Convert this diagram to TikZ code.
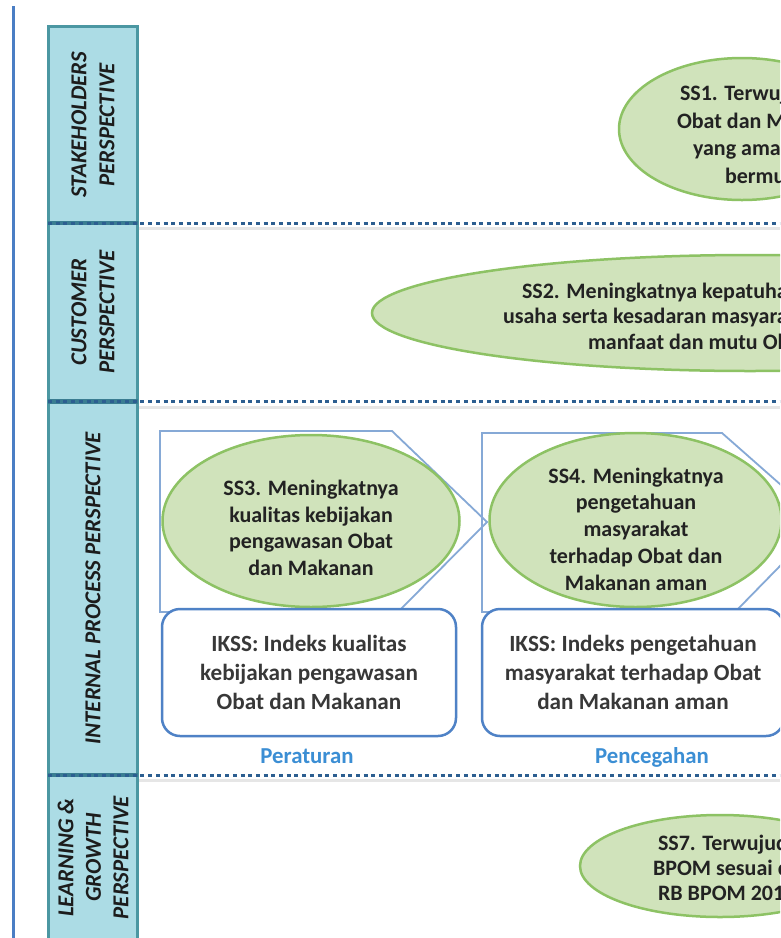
\documentclass[tikz,border=0pt]{standalone}
\usepackage{fontspec}
\setmainfont{Carlito}
\usetikzlibrary{shapes.geometric}
\definecolor{colfill}{HTML}{ACDCE5}
\definecolor{colborder}{HTML}{4B97A2}
\definecolor{coltext}{HTML}{1C1C1C}
\definecolor{leftline}{HTML}{4A7EC4}
\definecolor{sepcol}{HTML}{2C5E90}
\definecolor{colsepcol}{HTML}{3A7D92}
\definecolor{shadowcol}{HTML}{E6E6E6}
\definecolor{ellfill}{HTML}{D0E3BB}
\definecolor{ellborder}{HTML}{8DC264}
\definecolor{sstextcol}{HTML}{222222}
\definecolor{framecol}{HTML}{86A9D6}
\definecolor{ikssborder}{HTML}{4F82C6}
\definecolor{iksstext}{HTML}{383838}
\definecolor{catcol}{HTML}{3B8ED4}
\newcommand{\fixl}[2]{\makebox[#1][l]{#2}}
\tikzset{
  colbox/.style={draw=colborder, fill=colfill, line width=3pt, rotate=90, inner sep=0pt,
    align=center, font=\bfseries\itshape\fontsize{22.8}{28}\selectfont, text=coltext},
  ssell/.style={ellipse, draw=ellborder, fill=ellfill, line width=2.5pt, inner sep=0pt},
  sstext/.style={align=center, font=\bfseries\fontsize{22}{26.5}\selectfont, text=sstextcol, inner sep=0pt},
  ikss/.style={draw=ikssborder, fill=white, line width=2.5pt, rounded corners=18pt, inner sep=0pt,
    align=center, font=\bfseries\fontsize{23.2}{29}\selectfont, text=iksstext},
  frameshape/.style={draw=framecol, line width=1.8pt, line join=miter},
  sepline/.style={draw=sepcol, line width=3pt, dash pattern=on 4pt off 3.7pt},
  colsep/.style={draw=colsepcol, line width=4.5pt},
  shadowline/.style={draw=shadowcol, line width=3pt},
  catlabel/.style={font=\bfseries\fontsize{22.8}{27}\selectfont, text=catcol, inner sep=0pt, anchor=base},
}
\begin{document}
\begin{tikzpicture}[x=1pt,y=-1pt]
\useasboundingbox (0,0) rectangle (780,938);
\clip (0,0) rectangle (780,938);
\fill[white] (0,0) rectangle (780,938);
% left vertical line
\coordinate (lltop) at (13.8,6);
\coordinate (llbot) at (13.8,945);
\draw[leftline, line width=3pt] (lltop) -- (llbot);
% perspective column
\node[colbox, minimum width=196.5pt, minimum height=89pt] (stk) at (93,124.75) {STAKEHOLDERS\\PERSPECTIVE};
\node[colbox, minimum width=178.5pt, minimum height=89pt] (cust) at (93,312.25) {CUSTOMER\\PERSPECTIVE};
\node[colbox, minimum width=373.5pt, minimum height=89pt] (intp) at (93,588.25) {INTERNAL PROCESS PERSPECTIVE};
\node[colbox, minimum width=165pt, minimum height=89pt, font=\bfseries\itshape\fontsize{22.8}{27.5}\selectfont] (lg) at (93,857.5) {LEARNING \&\\GROWTH\\PERSPECTIVE};
% separators
\foreach \yy in {223,401.5,775}{
  \draw[colsep] (48,\yy) -- (138,\yy);
  \draw[sepline] (48,\yy) -- (780,\yy);
  \draw[shadowline] (139,\yy+5.5) -- (780,\yy+5.5);
}
% frames (pentagon arrows)
\draw[frameshape] (160,431) -- (392,431) -- (487,522) -- (398,612) -- (160,612) -- cycle;
\draw[frameshape] (482,433) -- (722,433) -- (823,522) -- (735,612) -- (482,612) -- cycle;
% stakeholders
\node[ssell, minimum width=246pt, minimum height=142pt] (ss1) at (742,129) {};
\node[sstext, font=\bfseries\fontsize{22}{27.6}\selectfont] (ss1t) at (780,134.5)
  {\fixl{200pt}{SS1. Terwujudnya}\\\fixl{206pt}{Obat dan Makanan}\\\fixl{174pt}{yang aman dan}\\\fixl{110pt}{bermutu}};
% customer
\node[ssell, minimum width=756pt, minimum height=116pt] (ss2) at (750,313) {};
\node[sstext, font=\bfseries\fontsize{22}{25.5}\selectfont] (ss2t) at (782,316)
  {\fixl{520pt}{SS2. Meningkatnya kepatuhan pelaku}\\\fixl{558pt}{usaha serta kesadaran masyarakat terhadap keamanan,}\\\fixl{388pt}{manfaat dan mutu Obat dan Makanan}};
% internal process
\node[ssell, minimum width=297pt, minimum height=172pt] (ss3) at (311,521) {};
\node[sstext] (ss3t) at (311,528) {SS3. Meningkatnya\\kualitas kebijakan\\pengawasan Obat\\dan Makanan};
\node[ssell, minimum width=292pt, minimum height=174pt] (ss4) at (635.5,520) {};
\node[sstext, font=\bfseries\fontsize{22}{26.75}\selectfont] (ss4t) at (636,529) {SS4. Meningkatnya\\pengetahuan\\masyarakat\\terhadap Obat dan\\Makanan aman};
\node[ikss, minimum width=294pt, minimum height=127pt] (ik3) at (309,672.5) {IKSS: Indeks kualitas\\kebijakan pengawasan\\Obat dan Makanan};
\node[ikss, minimum width=302pt, minimum height=127pt] (ik4) at (633,672.5) {IKSS: Indeks pengetahuan\\masyarakat terhadap Obat\\dan Makanan aman};
\node[catlabel] (cat3) at (307,763) {Peraturan};
\node[catlabel] (cat4) at (652,763) {Pencegahan};
% learning & growth
\node[ssell, minimum width=280pt, minimum height=102pt] (ss7) at (720,866) {};
\node[sstext, font=\bfseries\fontsize{22}{25}\selectfont] (ss7t) at (780,868)
  {\fixl{244pt}{SS7. Terwujudnya Organisasi}\\\fixl{254pt}{BPOM sesuai dengan}\\\fixl{244pt}{RB BPOM 2015-2019}};
\end{tikzpicture}
\end{document}
